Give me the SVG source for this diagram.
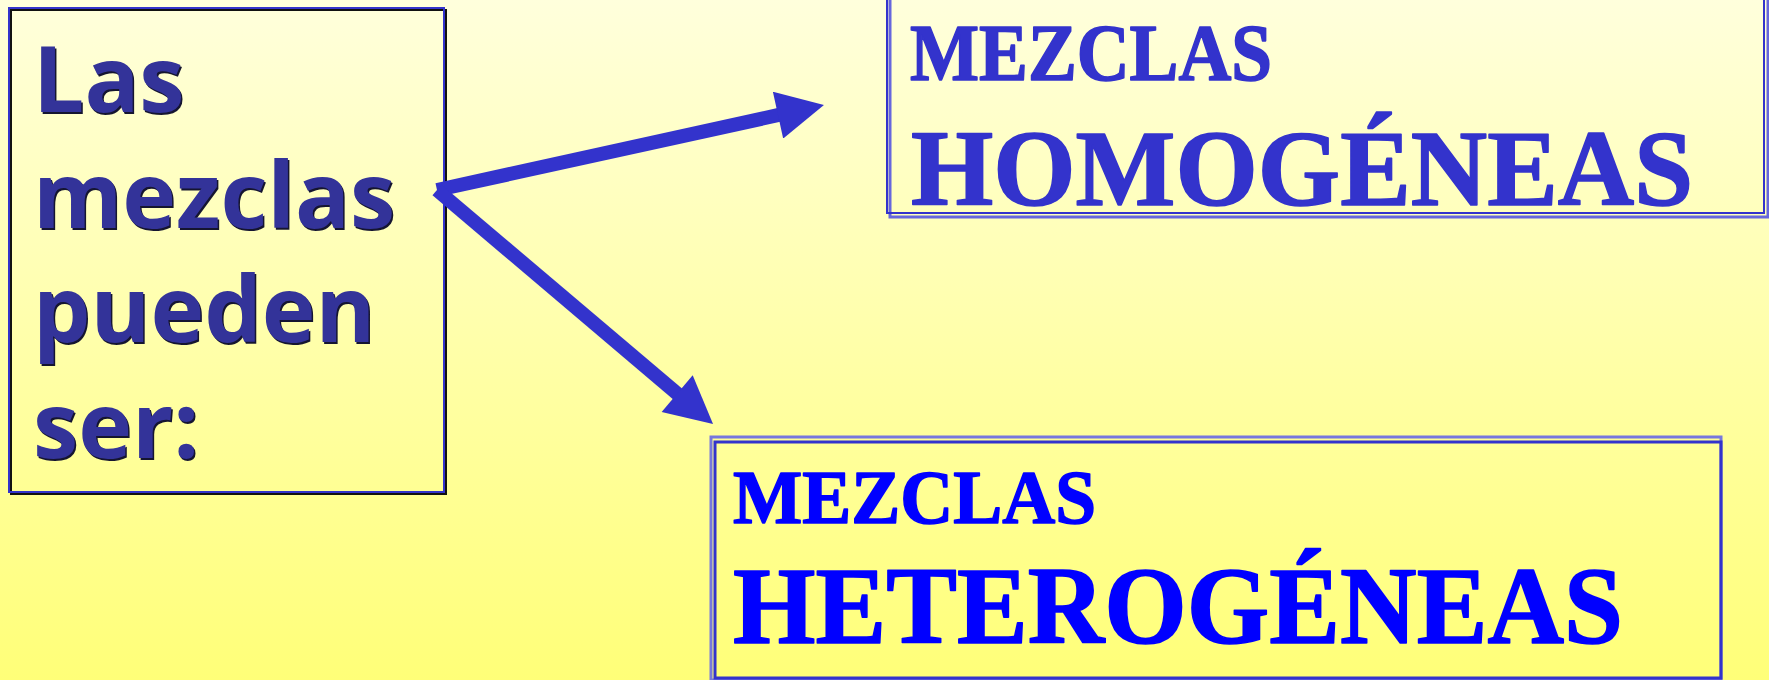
<svg xmlns="http://www.w3.org/2000/svg" width="1769" height="680" viewBox="0 0 1769 680">
<defs>
<linearGradient id="bg" x1="0" y1="0" x2="0" y2="1">
<stop offset="0" stop-color="#FFFFDC"/>
<stop offset="1" stop-color="#FFFF78"/>
</linearGradient>
<marker id="head" markerUnits="userSpaceOnUse" markerWidth="48" markerHeight="48" viewBox="0 0 47 48" refX="2" refY="24" orient="auto">
<path d="M0,0 L47,24 L0,48 z" fill="#3333CC"/>
</marker>
</defs>
<style>
.lt{font-family:"Open Sans","DejaVu Sans",sans-serif;font-weight:bold;font-size:91px}
.sh{fill:#151530}
.fg{fill:#333399}
.rt{font-family:"Liberation Serif","Times New Roman",serif;font-weight:bold;stroke-width:1.6;stroke-linejoin:round}
.conn{stroke:#3333CC;stroke-width:14;fill:none}
</style>
<rect width="1769" height="680" fill="url(#bg)"/>

<g id="node-left">
<rect x="11" y="10" width="435" height="484" fill="none" stroke="#111111" stroke-width="2"/>
<rect x="9" y="8" width="435" height="484" fill="none" stroke="#3333CC" stroke-width="2"/>
<g class="lt">
<text class="sh" x="34.5" y="113.5">Las</text>
<text class="sh" x="34.5" y="229.5">mezclas</text>
<text class="sh" x="34.5" y="343.5">pueden</text>
<text class="sh" x="34.5" y="459.5">ser:</text>
<text class="fg" x="33" y="112">Las</text>
<text class="fg" x="33" y="228">mezclas</text>
<text class="fg" x="33" y="342">pueden</text>
<text class="fg" x="33" y="458">ser:</text>
</g>
</g>

<g id="node-homogeneas">
<rect x="890" y="-10" width="878" height="227" fill="none" stroke="#6666DD" stroke-width="3"/>
<rect x="887" y="-13" width="877" height="226" fill="none" stroke="#3333CC" stroke-width="2"/>
<text class="rt" x="910" y="80" font-size="80" fill="#3333CC" stroke="#3333CC" textLength="362" lengthAdjust="spacingAndGlyphs">MEZCLAS</text>
<text class="rt" x="911" y="205" font-size="108" fill="#3333CC" stroke="#3333CC" textLength="782" lengthAdjust="spacingAndGlyphs">HOMOGÉNEAS</text>
</g>

<g id="node-heterogeneas">
<rect x="711" y="437" width="1010" height="243" fill="none" stroke="#7777DD" stroke-width="3"/>
<rect x="715" y="442" width="1006" height="236" fill="none" stroke="#3333CC" stroke-width="3"/>
<text class="rt" x="733" y="523" font-size="77" fill="#0000FF" stroke="#0000FF" textLength="363" lengthAdjust="spacingAndGlyphs">MEZCLAS</text>
<text class="rt" x="733" y="643" font-size="110" fill="#0000FF" stroke="#0000FF" textLength="890" lengthAdjust="spacingAndGlyphs">HETEROGÉNEAS</text>
</g>

<g id="connectors">
<line class="conn" x1="437" y1="190" x2="780" y2="114.7" marker-end="url(#head)"/>
<line class="conn" x1="437" y1="190" x2="678.7" y2="394.9" marker-end="url(#head)"/>
</g>
</svg>
